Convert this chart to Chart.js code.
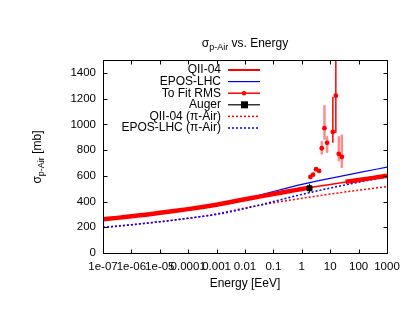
<!DOCTYPE html>
<html>
<head>
<meta charset="utf-8">
<script src="https://cdn.jsdelivr.net/npm/chart.js@4.4.0/dist/chart.umd.min.js"></script>
<style>
  html, body { margin: 0; padding: 0; background: #fff; }
  #wrap { width: 415px; height: 321px; }
</style>
</head>
<body>
<div id="wrap"><canvas id="sigmaChart" width="415" height="321"></canvas></div>
<script>
// axis ticks
const xTickValues = [1e-7, 1e-6, 1e-5, 1e-4, 1e-3, 1e-2, 1e-1, 1, 10, 100, 1000];
const xTickLabels = ["1e-07", "1e-06", "1e-05", "0.0001", "0.001", "0.01", "0.1", "1", "10", "100", "1000"];
const yTickValues = [0, 200, 400, 600, 800, 1000, 1200, 1400];

// model curves, one value per decade of energy (EeV)
const curveEnergy = [1e-7, 1e-6, 1e-5, 1e-4, 1e-3, 1e-2, 1e-1, 1, 10, 100, 1000];
const qiiPAir = [260, 285, 311, 340, 374, 418, 458, 498, 533, 567, 600];
const eposPAir = [257, 282, 309, 338, 373, 420, 478, 533, 580, 624, 667];
const qiiPiAir = [200, 220, 243, 270, 304, 350, 390, 425, 458, 488, 516];
const eposPiAir = [198, 219, 243, 270, 300, 345, 400, 455, 505, 550, 593];

// "To Fit RMS": dense points that sit on the QII-04 curve (null = gap)
const fitBandEnergy = [1e-7, 3.16e-7, 1e-6, 3.16e-6, 1e-5, 3.16e-5, 1e-4, 3.16e-4, 1e-3, 3.16e-3,
  1e-2, 3.16e-2, 0.1, 0.316, 1, 1.78, null, 35, 100, 316, 1000];
const fitBandSigma = [262, 273, 286, 298, 312, 326, 341, 357, 375, 396,
  418, 438, 458, 478, 498, 507, null, 553, 567, 584, 600];

// "To Fit RMS": the scattered points with error bars
const fitEnergy = [2.01, 2.49, 3.18, 4.06, 5.05, 6.29, 7.77, 12.4, 15.8, 20.1, 25.7];
const fitSigma = [591, 609, 651, 638, 814, 970, 856, 941, 1223, 770, 747];
const fitLow = [582, 600, 640, 627, 765, 881, 778, 856, 933, 713, 661];
const fitHigh = [600, 618, 662, 649, 869, 1149, 908, 1213, 1700, 908, 920];

// Auger measurement
const augerEnergy = [1.87];
const augerSigma = [503];
const augerLow = [470];
const augerHigh = [538];

const FONT = "Liberation Sans, Arial, sans-serif";
const RED = "#ff0000";
const BLUE = "#0000ff";

function pairs(xs, ys) {
  return xs.map((x, i) => (x === null ? { x: null, y: null } : { x, y: ys[i] }));
}

// draws text with "sub" parts as subscripts, centred on x
function drawRich(ctx, parts, x, y, size) {
  const subSize = Math.round(size * 0.72);
  let total = 0;
  for (const p of parts) {
    ctx.font = `${p.sub ? subSize : size}px ${FONT}`;
    total += ctx.measureText(p.t).width;
  }
  let cx = x - total / 2;
  for (const p of parts) {
    ctx.font = `${p.sub ? subSize : size}px ${FONT}`;
    ctx.fillText(p.t, cx, p.sub ? y + 3 : y);
    cx += ctx.measureText(p.t).width;
  }
}

const errorBars = {
  id: "errorBars",
  beforeDatasetsDraw(chart) {
    const { ctx, chartArea: a, scales: { x, y } } = chart;
    ctx.save();
    ctx.beginPath();
    ctx.rect(a.left, a.top, a.right - a.left, a.bottom - a.top);
    ctx.clip();
    fitEnergy.forEach((e, i) => {
      const px = x.getPixelForValue(e);
      const strong = i === 7 || i === 8;
      ctx.strokeStyle = strong ? RED : "rgba(255,0,0,0.45)";
      ctx.lineWidth = strong ? 1.5 : 2.5;
      ctx.beginPath();
      ctx.moveTo(px, y.getPixelForValue(fitLow[i]));
      ctx.lineTo(px, y.getPixelForValue(fitHigh[i]));
      ctx.stroke();
    });
    augerEnergy.forEach((e, i) => {
      const px = x.getPixelForValue(e);
      ctx.strokeStyle = "#000";
      ctx.lineWidth = 1;
      ctx.beginPath();
      ctx.moveTo(px, y.getPixelForValue(augerLow[i]));
      ctx.lineTo(px, y.getPixelForValue(augerHigh[i]));
      ctx.stroke();
    });
    ctx.restore();
  },
};

const frame = {
  id: "frame",
  afterDraw(chart) {
    const { ctx, chartArea: a, scales: { x, y } } = chart;
    ctx.save();
    ctx.strokeStyle = "#000";
    ctx.lineWidth = 1;
    const L = Math.round(a.left) + 0.5, R = Math.round(a.right) + 0.5;
    const T = Math.round(a.top) + 0.5, B = Math.round(a.bottom) + 0.5;
    ctx.strokeRect(L, T, R - L, B - T);
    // inward ticks on all four sides
    ctx.beginPath();
    for (const v of xTickValues) {
      const px = Math.round(x.getPixelForValue(v)) + 0.5;
      ctx.moveTo(px, B); ctx.lineTo(px, B - 4);
      ctx.moveTo(px, T); ctx.lineTo(px, T + 4);
    }
    for (const v of yTickValues) {
      const py = Math.round(y.getPixelForValue(v)) + 0.5;
      ctx.moveTo(L, py); ctx.lineTo(L + 4, py);
      ctx.moveTo(R, py); ctx.lineTo(R - 4, py);
    }
    ctx.stroke();

    // titles
    ctx.fillStyle = "#000";
    ctx.textBaseline = "alphabetic";
    ctx.textAlign = "left";
    drawRich(ctx, [{ t: "σ" }, { t: "p-Air", sub: true }, { t: " vs. Energy" }], 245, 47, 12);
    drawRich(ctx, [{ t: "Energy [EeV]" }], 245, 287, 12);
    ctx.save();
    ctx.translate(41, 157);
    ctx.rotate(-Math.PI / 2);
    drawRich(ctx, [{ t: "σ" }, { t: "p-Air", sub: true }, { t: " [mb]" }], 0, 0, 12);
    ctx.restore();

    // key, gnuplot style: right-aligned text, sample to the right
    const keys = [
      { label: "QII-04", color: RED, width: 2 },
      { label: "EPOS-LHC", color: BLUE, width: 1.2 },
      { label: "To Fit RMS", color: RED, width: 1.5, dot: true },
      { label: "Auger", color: "#000", width: 1.2, square: true },
      { label: "QII-04 (π-Air)", color: RED, width: 1.5, dash: [2, 2] },
      { label: "EPOS-LHC (π-Air)", color: BLUE, width: 1.5, dash: [2, 2] },
    ];
    ctx.font = `12px ${FONT}`;
    ctx.textAlign = "right";
    ctx.textBaseline = "middle";
    keys.forEach((k, i) => {
      const ky = 70 + i * 11.6;
      ctx.fillStyle = "#000";
      ctx.fillText(k.label, 221, ky);
      ctx.strokeStyle = k.color;
      ctx.lineWidth = k.width;
      ctx.setLineDash(k.dash || []);
      ctx.beginPath();
      ctx.moveTo(228, ky);
      ctx.lineTo(260, ky);
      ctx.stroke();
      ctx.setLineDash([]);
      if (k.dot) {
        ctx.fillStyle = RED;
        ctx.beginPath();
        ctx.arc(244, ky, 2.3, 0, Math.PI * 2);
        ctx.fill();
      }
      if (k.square) {
        ctx.fillStyle = "#000";
        ctx.fillRect(241, ky - 3.5, 7, 7);
      }
    });
    ctx.restore();
  },
};

const curveStyle = { pointRadius: 0, fill: false, cubicInterpolationMode: "monotone" };

new Chart(document.getElementById("sigmaChart"), {
  type: "line",
  data: {
    datasets: [
      {
        label: "Auger", data: pairs(augerEnergy, augerSigma), showLine: false,
        pointStyle: "rect", pointRadius: 3.5, backgroundColor: "#000", borderColor: "#000", order: 0,
      },
      {
        label: "To Fit RMS", data: pairs(fitEnergy, fitSigma), showLine: false,
        pointRadius: 2.4, backgroundColor: RED, borderColor: RED, borderWidth: 0, order: 1,
      },
      {
        label: "To Fit RMS band", data: pairs(fitBandEnergy, fitBandSigma), ...curveStyle,
        borderColor: RED, borderWidth: 4.5, spanGaps: false, order: 1,
      },
      { label: "QII-04", data: pairs(curveEnergy, qiiPAir), ...curveStyle, borderColor: RED, borderWidth: 1.5, order: 2 },
      { label: "EPOS-LHC", data: pairs(curveEnergy, eposPAir), ...curveStyle, borderColor: BLUE, borderWidth: 1.2, order: 3 },
      {
        label: "EPOS-LHC (π-Air)", data: pairs(curveEnergy, eposPiAir), ...curveStyle,
        borderColor: BLUE, borderWidth: 1.5, borderDash: [2, 2], order: 4,
      },
      {
        label: "QII-04 (π-Air)", data: pairs(curveEnergy, qiiPiAir), ...curveStyle,
        borderColor: RED, borderWidth: 1.5, borderDash: [2, 2], order: 5,
      },
    ],
  },
  options: {
    responsive: false,
    animation: false,
    devicePixelRatio: 1,
    layout: { padding: { top: 60, right: 28, left: 0, bottom: 0 } },
    plugins: { legend: { display: false }, tooltip: { enabled: false }, title: { display: false } },
    scales: {
      x: {
        type: "logarithmic",
        min: 1e-7,
        max: 1000,
        afterBuildTicks: (s) => { s.ticks = xTickValues.map((v) => ({ value: v })); },
        afterFit: (s) => { s.height = 68; },
        grid: { display: false, drawTicks: false },
        border: { display: false },
        ticks: {
          autoSkip: false, maxRotation: 0, padding: 7, color: "#000",
          font: { family: FONT, size: 11.5 },
          callback: (v, i) => xTickLabels[i],
        },
      },
      y: {
        min: 0,
        max: 1500,
        afterBuildTicks: (s) => { s.ticks = yTickValues.map((v) => ({ value: v })); },
        afterFit: (s) => { s.width = 103; },
        grid: { display: false, drawTicks: false },
        border: { display: false },
        ticks: {
          padding: 7, color: "#000", font: { family: FONT, size: 11.5 },
          callback: (v) => String(v),
        },
      },
    },
  },
  plugins: [errorBars, frame],
});
</script>
</body>
</html>
